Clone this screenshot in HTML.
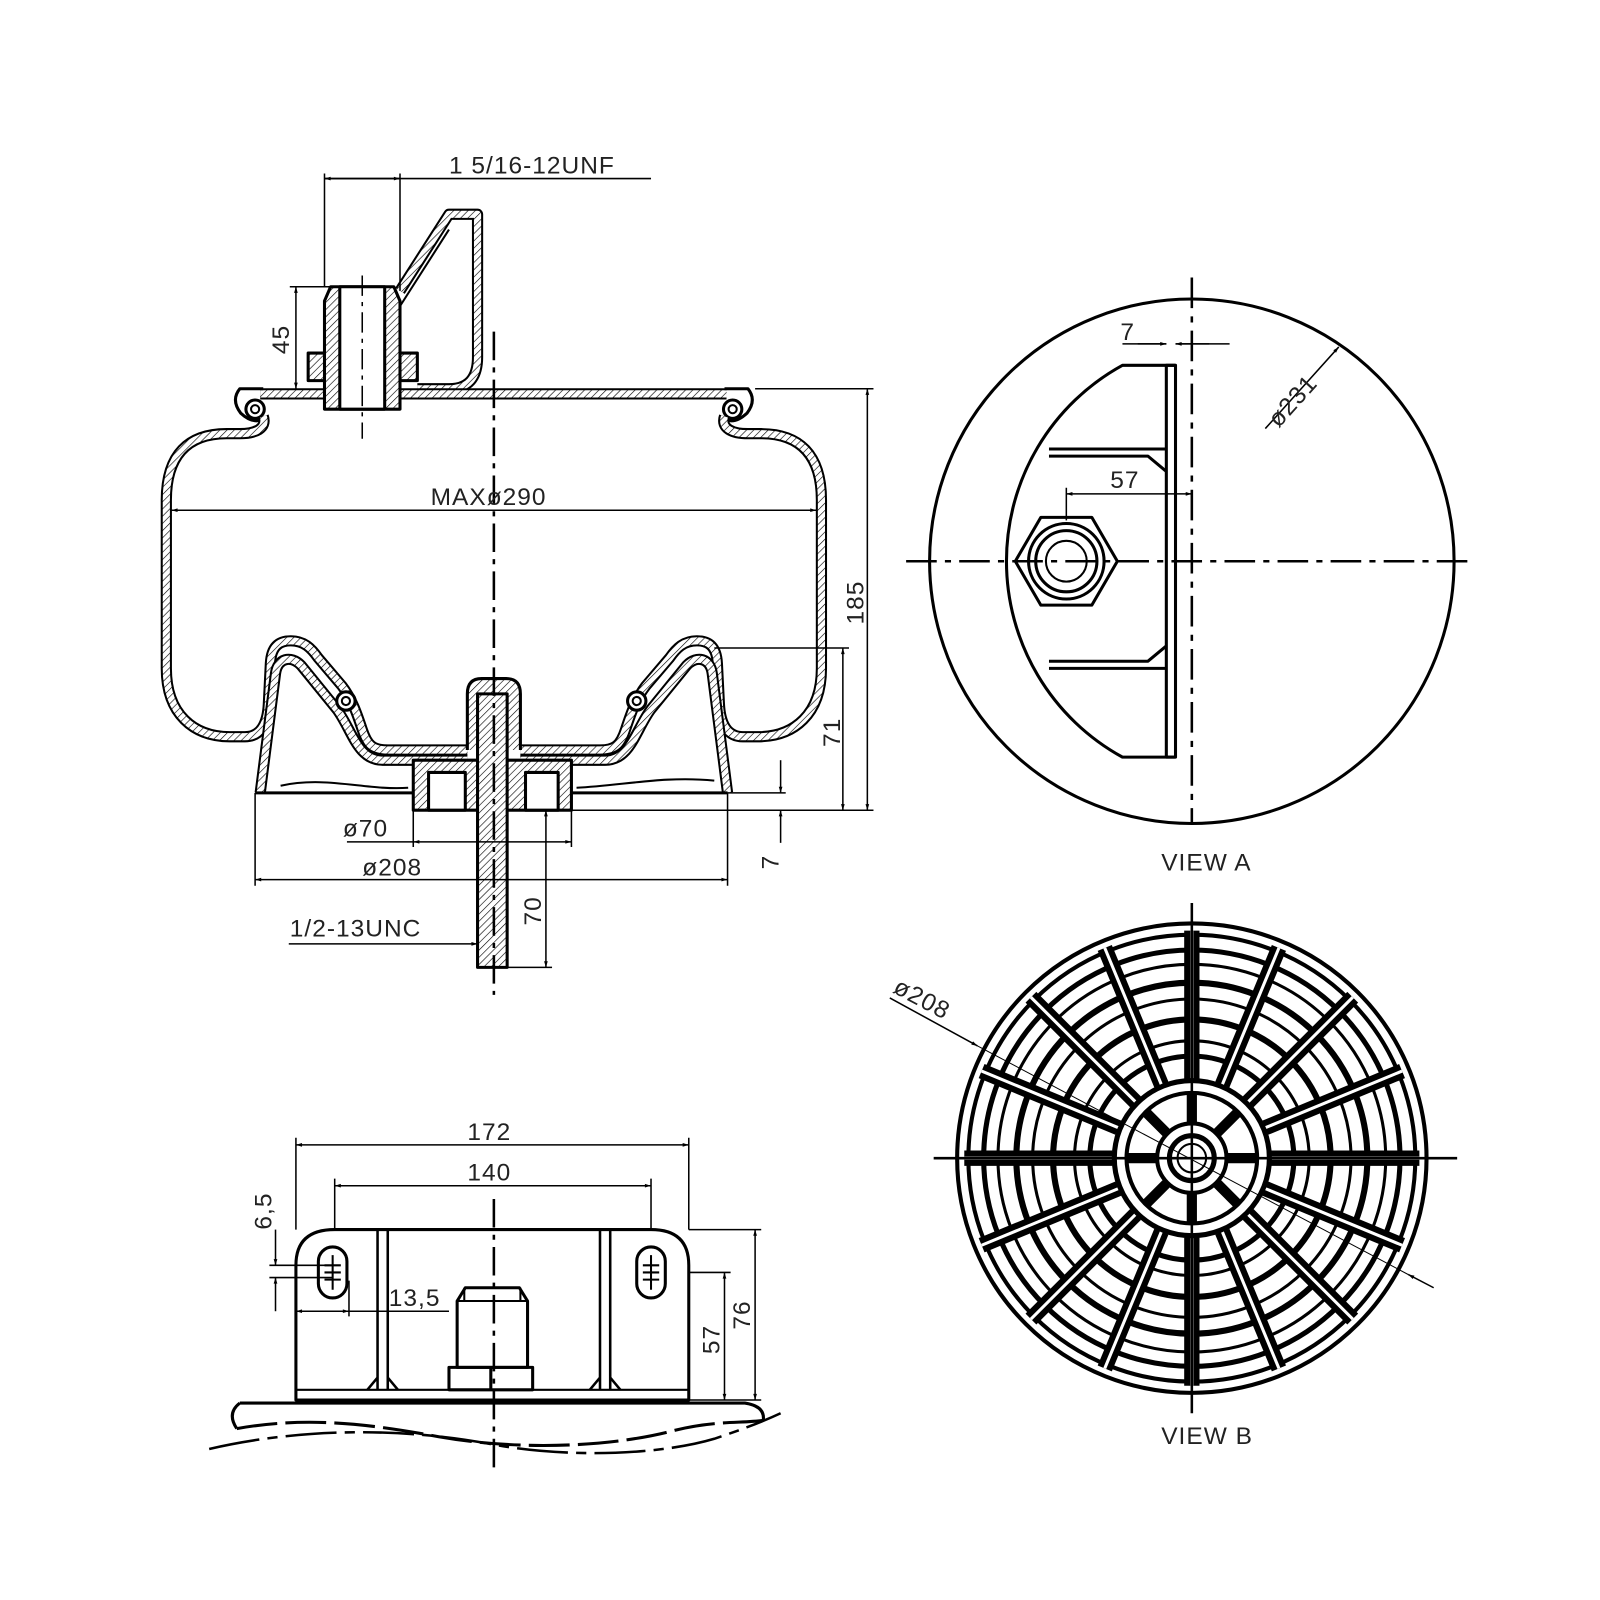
<!DOCTYPE html>
<html><head><meta charset="utf-8"><style>
html,body{margin:0;padding:0;background:#fff}
svg{display:block}
text{font-family:"Liberation Sans",sans-serif;fill:#222;font-size:24px;letter-spacing:1px}
</style></head><body>
<svg width="1600" height="1600" viewBox="0 0 1568 1568" xmlns="http://www.w3.org/2000/svg">
<defs>
<pattern id="h" width="5" height="5" patternUnits="userSpaceOnUse" patternTransform="rotate(45)">
<rect width="5" height="5" fill="#fff"/><line x1="0" y1="0" x2="0" y2="5" stroke="#000" stroke-width="1.2"/></pattern>
<marker id="a" viewBox="0 0 10 10" refX="10" refY="5" markerWidth="12" markerHeight="6" orient="auto-start-reverse" markerUnits="userSpaceOnUse"><path d="M0,2 L10,5 L0,8z" fill="#000"/></marker>
<line id="sp" x1="1168" y1="1057" x2="1168" y2="912" />
</defs>
<g fill="none" stroke="#000" stroke-linejoin="round">

<!-- ===== MAIN VIEW ===== -->
<!-- bracket -->
<path d="M392,285 L440,210 L468,210 L468,350 Q468,381 440,381 L409,381" stroke-width="11"/>
<path d="M392,285 L440,210 L468,210 L468,350 Q468,381 440,381 L409,381" stroke="url(#h)" stroke-width="7"/>
<line x1="392" y1="300" x2="440" y2="225" stroke-width="2"/>
<!-- top plate -->
<path d="M255,386 L712,386" stroke-width="11"/>
<path d="M255,386 L712,386" stroke="url(#h)" stroke-width="7"/>
<path d="M258,381 L235,381 Q226,392 236,405 Q250,418 262,408 M710,381 L733,381 Q742,392 732,405 Q718,418 706,408" stroke-width="3"/>
<circle cx="250" cy="401" r="9" stroke-width="3"/><circle cx="250" cy="401" r="4" stroke-width="2"/>
<circle cx="718" cy="401" r="9" stroke-width="3"/><circle cx="718" cy="401" r="4" stroke-width="2"/>
<!-- stud fitting -->
<rect x="302" y="346" width="107" height="27" fill="url(#h)" stroke-width="3"/>
<path d="M324,281 L386,281 L392,295 L392,401 L318,401 L318,295 Z" fill="url(#h)" stroke-width="3"/>
<rect x="333" y="281" width="44" height="120" fill="#fff" stroke-width="3"/>
<line x1="355" y1="270" x2="355" y2="430" stroke-width="1.5" stroke-dasharray="20,6,4,6"/>
<!-- bellows -->
<path id="bel" d="M258,408 C262,420 250,425 235,425 L222,425 C185,425 163,445 163,490 L163,655 C163,700 190,722 225,722 L240,722 C255,722 262,710 263,690 L265,650 C266,632 275,628 285,628 C298,628 305,635 312,645 L335,672 C345,685 350,700 355,715 C360,730 365,735 380,735 L458,735 M510,735 L588,735 C603,735 608,730 613,715 C618,700 623,685 633,672 L656,645 C663,635 670,628 683,628 C693,628 702,632 703,650 L705,690 C706,710 713,722 728,722 L743,722 C778,722 805,700 805,655 L805,490 C805,445 783,425 746,425 L733,425 C718,425 706,420 710,408" stroke-width="11"/>
<path d="M258,408 C262,420 250,425 235,425 L222,425 C185,425 163,445 163,490 L163,655 C163,700 190,722 225,722 L240,722 C255,722 262,710 263,690 L265,650 C266,632 275,628 285,628 C298,628 305,635 312,645 L335,672 C345,685 350,700 355,715 C360,730 365,735 380,735 L458,735 M510,735 L588,735 C603,735 608,730 613,715 C618,700 623,685 633,672 L656,645 C663,635 670,628 683,628 C693,628 702,632 703,650 L705,690 C706,710 713,722 728,722 L743,722 C778,722 805,700 805,655 L805,490 C805,445 783,425 746,425 L733,425 C718,425 706,420 710,408" stroke="url(#h)" stroke-width="7"/>
<!-- piston -->
<path d="M255,777 L270,660 C272,645 285,642 295,652 L330,695 C345,715 350,745 375,745 L458,745 M510,745 L593,745 C618,745 623,715 638,695 L673,652 C683,642 696,645 698,660 L713,777" stroke-width="11"/>
<path d="M255,777 L270,660 C272,645 285,642 295,652 L330,695 C345,715 350,745 375,745 L458,745 M510,745 L593,745 C618,745 623,715 638,695 L673,652 C683,642 696,645 698,660 L713,777" stroke="url(#h)" stroke-width="7"/>
<circle cx="339" cy="687" r="9" fill="#fff" stroke-width="3"/><circle cx="339" cy="687" r="4" stroke-width="2"/>
<circle cx="624" cy="687" r="9" fill="#fff" stroke-width="3"/><circle cx="624" cy="687" r="4" stroke-width="2"/>
<rect x="405" y="745" width="155" height="49" fill="url(#h)" stroke-width="3"/>
<rect x="420" y="757" width="36" height="37" fill="#fff" stroke-width="3"/>
<rect x="515" y="757" width="32" height="37" fill="#fff" stroke-width="3"/>
<path d="M250,777 L405,777 M560,777 L713,777" stroke-width="3"/>
<path d="M275,770 C320,760 360,775 400,772 M565,772 C610,770 650,760 700,765" stroke-width="2"/>
<path d="M458,735 L458,680 Q458,665 472,665 L496,665 Q510,665 510,680 L510,735" fill="url(#h)" stroke-width="3"/>
<!-- stud -->
<rect x="468" y="680" width="29" height="268" fill="url(#h)" stroke-width="3"/>
<line x1="484" y1="325" x2="484" y2="975" stroke-width="2.5" stroke-dasharray="28,7,5,7"/>

<!-- dims main -->
<g stroke-width="1.5">
<path d="M318,175 L638,175 M318,170 L318,281 M392,170 L392,285"/>
<line x1="318" y1="175" x2="392" y2="175" marker-start="url(#a)" marker-end="url(#a)"/>
<path d="M284,281 L324,281"/>
<line x1="290" y1="281" x2="290" y2="381" marker-start="url(#a)" marker-end="url(#a)"/>
<line x1="168" y1="500" x2="800" y2="500" marker-start="url(#a)" marker-end="url(#a)"/>
<path d="M740,381 L856,381 M560,794 L856,794 M700,635 L832,635 M713,777 L770,777"/>
<line x1="850" y1="381" x2="850" y2="794" marker-start="url(#a)" marker-end="url(#a)"/>
<line x1="826" y1="635" x2="826" y2="794" marker-start="url(#a)" marker-end="url(#a)"/>
<line x1="765" y1="745" x2="765" y2="777" marker-end="url(#a)"/>
<line x1="765" y1="826" x2="765" y2="794" marker-end="url(#a)"/>
<path d="M405,794 L405,830 M560,794 L560,830 M250,777 L250,868 M713,777 L713,868"/>
<line x1="405" y1="825" x2="560" y2="825" marker-start="url(#a)" marker-end="url(#a)"/>
<path d="M340,825 L405,825"/>
<line x1="250" y1="862" x2="713" y2="862" marker-start="url(#a)" marker-end="url(#a)"/>
<path d="M497,948 L541,948"/>
<line x1="535" y1="794" x2="535" y2="948" marker-start="url(#a)" marker-end="url(#a)"/>
<line x1="283" y1="925" x2="468" y2="925" marker-end="url(#a)"/>
</g>

<!-- ===== VIEW A ===== -->
<circle cx="1168" cy="550" r="257" stroke-width="3"/>
<path d="M1152,358 L1100,358 A219,219 0 0 0 1100,742 L1152,742" stroke-width="3"/>
<rect x="1143" y="358" width="9" height="384" stroke-width="3"/>
<path d="M1028,440 L1143,440 M1028,447 L1125,447 L1143,462 M1028,655 L1143,655 M1028,648 L1125,648 L1143,633" stroke-width="3"/>
<polygon points="995,550 1020,507 1070,507 1095,550 1070,593 1020,593" stroke-width="3"/>
<circle cx="1045" cy="550" r="37" stroke-width="3"/>
<circle cx="1045" cy="550" r="30" stroke-width="3"/>
<circle cx="1045" cy="550" r="20" stroke-width="2"/>
<g stroke-width="2.5" stroke-dasharray="30,8,6,8">
<line x1="888" y1="550" x2="1440" y2="550"/><line x1="1168" y1="272" x2="1168" y2="808"/></g>
<g stroke-width="1.5">
<path d="M1100,337 L1143,337 M1152,337 L1205,337"/>
<line x1="1115" y1="337" x2="1143" y2="337" marker-end="url(#a)"/>
<line x1="1185" y1="337" x2="1152" y2="337" marker-end="url(#a)"/>
<line x1="1045" y1="484" x2="1168" y2="484" marker-start="url(#a)" marker-end="url(#a)"/>
<path d="M1045,478 L1045,510"/>
<line x1="1240" y1="420" x2="1312" y2="340" marker-end="url(#a)"/>
</g>

<!-- ===== VIEW B ===== -->
<circle cx="1168" cy="1135" r="230" stroke-width="4"/>
<circle cx="1168" cy="1135" r="219" stroke-width="4"/>
<circle cx="1168" cy="1135" r="204" stroke-width="5"/>
<circle cx="1168" cy="1135" r="190" stroke-width="3"/>
<circle cx="1168" cy="1135" r="172" stroke-width="6"/>
<circle cx="1168" cy="1135" r="156" stroke-width="3"/>
<circle cx="1168" cy="1135" r="136" stroke-width="6"/>
<circle cx="1168" cy="1135" r="115" stroke-width="3"/>
<circle cx="1168" cy="1135" r="100" stroke-width="5"/>
<g stroke="#000" stroke-width="15">
<use href="#sp"/><use href="#sp" transform="rotate(22.5 1168 1135)"/><use href="#sp" transform="rotate(45 1168 1135)"/><use href="#sp" transform="rotate(67.5 1168 1135)"/><use href="#sp" transform="rotate(90 1168 1135)"/><use href="#sp" transform="rotate(112.5 1168 1135)"/><use href="#sp" transform="rotate(135 1168 1135)"/><use href="#sp" transform="rotate(157.5 1168 1135)"/><use href="#sp" transform="rotate(180 1168 1135)"/><use href="#sp" transform="rotate(202.5 1168 1135)"/><use href="#sp" transform="rotate(225 1168 1135)"/><use href="#sp" transform="rotate(247.5 1168 1135)"/><use href="#sp" transform="rotate(270 1168 1135)"/><use href="#sp" transform="rotate(292.5 1168 1135)"/><use href="#sp" transform="rotate(315 1168 1135)"/><use href="#sp" transform="rotate(337.5 1168 1135)"/>
</g>
<g stroke="#fff" stroke-width="3">
<use href="#sp"/><use href="#sp" transform="rotate(22.5 1168 1135)"/><use href="#sp" transform="rotate(45 1168 1135)"/><use href="#sp" transform="rotate(67.5 1168 1135)"/><use href="#sp" transform="rotate(90 1168 1135)"/><use href="#sp" transform="rotate(112.5 1168 1135)"/><use href="#sp" transform="rotate(135 1168 1135)"/><use href="#sp" transform="rotate(157.5 1168 1135)"/><use href="#sp" transform="rotate(180 1168 1135)"/><use href="#sp" transform="rotate(202.5 1168 1135)"/><use href="#sp" transform="rotate(225 1168 1135)"/><use href="#sp" transform="rotate(247.5 1168 1135)"/><use href="#sp" transform="rotate(270 1168 1135)"/><use href="#sp" transform="rotate(292.5 1168 1135)"/><use href="#sp" transform="rotate(315 1168 1135)"/><use href="#sp" transform="rotate(337.5 1168 1135)"/>
</g>
<circle cx="1168" cy="1135" r="76" fill="#fff" stroke-width="5"/>
<circle cx="1168" cy="1135" r="64" stroke-width="4"/>
<circle cx="1168" cy="1135" r="34" stroke-width="4"/>
<g stroke-width="10">
<line x1="1168" y1="1101" x2="1168" y2="1071"/><line x1="1168" y1="1169" x2="1168" y2="1199"/>
<line x1="1134" y1="1135" x2="1104" y2="1135"/><line x1="1202" y1="1135" x2="1232" y2="1135"/>
<line x1="1144" y1="1111" x2="1123" y2="1090"/><line x1="1192" y1="1111" x2="1213" y2="1090"/>
<line x1="1144" y1="1159" x2="1123" y2="1180"/><line x1="1192" y1="1159" x2="1213" y2="1180"/>
</g>
<circle cx="1168" cy="1135" r="22" fill="#fff" stroke-width="5"/>
<circle cx="1168" cy="1135" r="14" stroke-width="2"/>
<g stroke-width="2.5">
<line x1="915" y1="1135" x2="1428" y2="1135"/><line x1="1168" y1="885" x2="1168" y2="1385"/></g>
<line x1="872" y1="978" x2="958" y2="1025" stroke-width="1.5" marker-end="url(#a)"/>
<line x1="958" y1="1025" x2="1380" y2="1249" stroke-width="1"/>
<line x1="1405" y1="1262" x2="1380" y2="1249" stroke-width="1.5" marker-end="url(#a)"/>

<!-- ===== BRACKET VIEW ===== -->
<path d="M290,1372 L290,1240 Q290,1205 328,1205 L638,1205 Q675,1205 675,1240 L675,1372 Z" stroke-width="3"/>
<line x1="290" y1="1362" x2="675" y2="1362" stroke-width="2"/>
<path d="M370,1205 L370,1362 M380,1205 L380,1362 M588,1205 L588,1362 M598,1205 L598,1362 M360,1362 L370,1350 M390,1362 L380,1350 M578,1362 L588,1350 M608,1362 L598,1350" stroke-width="2.5"/>
<rect x="312" y="1222" width="28" height="50" rx="14" stroke-width="3"/>
<rect x="624" y="1222" width="28" height="50" rx="14" stroke-width="3"/>
<path d="M326,1230 L326,1264 M638,1230 L638,1264 M318,1240 L334,1240 M318,1247 L334,1247 M318,1254 L334,1254 M630,1240 L646,1240 M630,1247 L646,1247 M630,1254 L646,1254" stroke-width="2"/>
<path d="M456,1262 L509,1262 L517,1275 L517,1340 L448,1340 L448,1275 Z" stroke-width="3"/>
<path d="M448,1275 L517,1275 M455,1262 L455,1275 M510,1262 L510,1275" stroke-width="2"/>
<path d="M440,1340 L522,1340 L522,1362 L440,1362 Z M481,1340 L481,1362" stroke-width="3"/>
<line x1="484" y1="1175" x2="484" y2="1440" stroke-width="2.5" stroke-dasharray="28,7,5,7"/>
<path d="M235,1375 L730,1375 Q750,1378 748,1392 M235,1375 Q222,1385 232,1400" stroke-width="3"/>
<path d="M232,1400 C300,1388 360,1395 430,1408 C510,1422 600,1418 660,1402 C700,1392 725,1395 748,1392" stroke-width="3" stroke-dasharray="40,8"/>
<path d="M205,1420 C300,1398 400,1400 480,1415 C560,1430 650,1425 700,1410 C730,1400 750,1392 765,1385" stroke-width="2.5" stroke-dasharray="50,8,10,8"/>
<g stroke-width="1.5">
<path d="M290,1115 L290,1205 M675,1115 L675,1205 M328,1155 L328,1205 M638,1155 L638,1205"/>
<line x1="290" y1="1122" x2="675" y2="1122" marker-start="url(#a)" marker-end="url(#a)"/>
<line x1="328" y1="1162" x2="638" y2="1162" marker-start="url(#a)" marker-end="url(#a)"/>
<path d="M264,1240 L326,1240 M264,1252 L326,1252"/>
<line x1="270" y1="1205" x2="270" y2="1240" marker-end="url(#a)"/>
<line x1="270" y1="1285" x2="270" y2="1252" marker-end="url(#a)"/>
<path d="M290,1255 L290,1290 M342,1255 L342,1290 M342,1285 L440,1285"/>
<line x1="290" y1="1285" x2="342" y2="1285" marker-start="url(#a)" marker-end="url(#a)"/>
<path d="M675,1247 L716,1247 M675,1205 L746,1205 M675,1372 L746,1372"/>
<line x1="710" y1="1247" x2="710" y2="1372" marker-start="url(#a)" marker-end="url(#a)"/>
<line x1="740" y1="1205" x2="740" y2="1372" marker-start="url(#a)" marker-end="url(#a)"/>
</g>
</g>

<!-- TEXT -->
<text x="440" y="170">1 5/16-12UNF</text>
<text transform="translate(283,347) rotate(-90)">45</text>
<text x="422" y="495">MAXø290</text>
<text transform="translate(846,612) rotate(-90)">185</text>
<text transform="translate(823,732) rotate(-90)">71</text>
<text transform="translate(763,852) rotate(-90)">7</text>
<text x="336" y="820">ø70</text>
<text x="355" y="858">ø208</text>
<text transform="translate(530,907) rotate(-90)">70</text>
<text x="284" y="918">1/2-13UNC</text>
<text x="1098" y="333">7</text>
<text x="1088" y="478">57</text>
<text transform="translate(1253,420) rotate(-48)">ø231</text>
<text x="1138" y="853">VIEW  A</text>
<text transform="translate(874,972) rotate(28)">ø208</text>
<text x="1138" y="1415">VIEW  B</text>
<text x="458" y="1117">172</text>
<text x="458" y="1157">140</text>
<text transform="translate(266,1205) rotate(-90)">6,5</text>
<text x="381" y="1280">13,5</text>
<text transform="translate(705,1327) rotate(-90)">57</text>
<text transform="translate(735,1303) rotate(-90)">76</text>
</svg>
</body></html>
